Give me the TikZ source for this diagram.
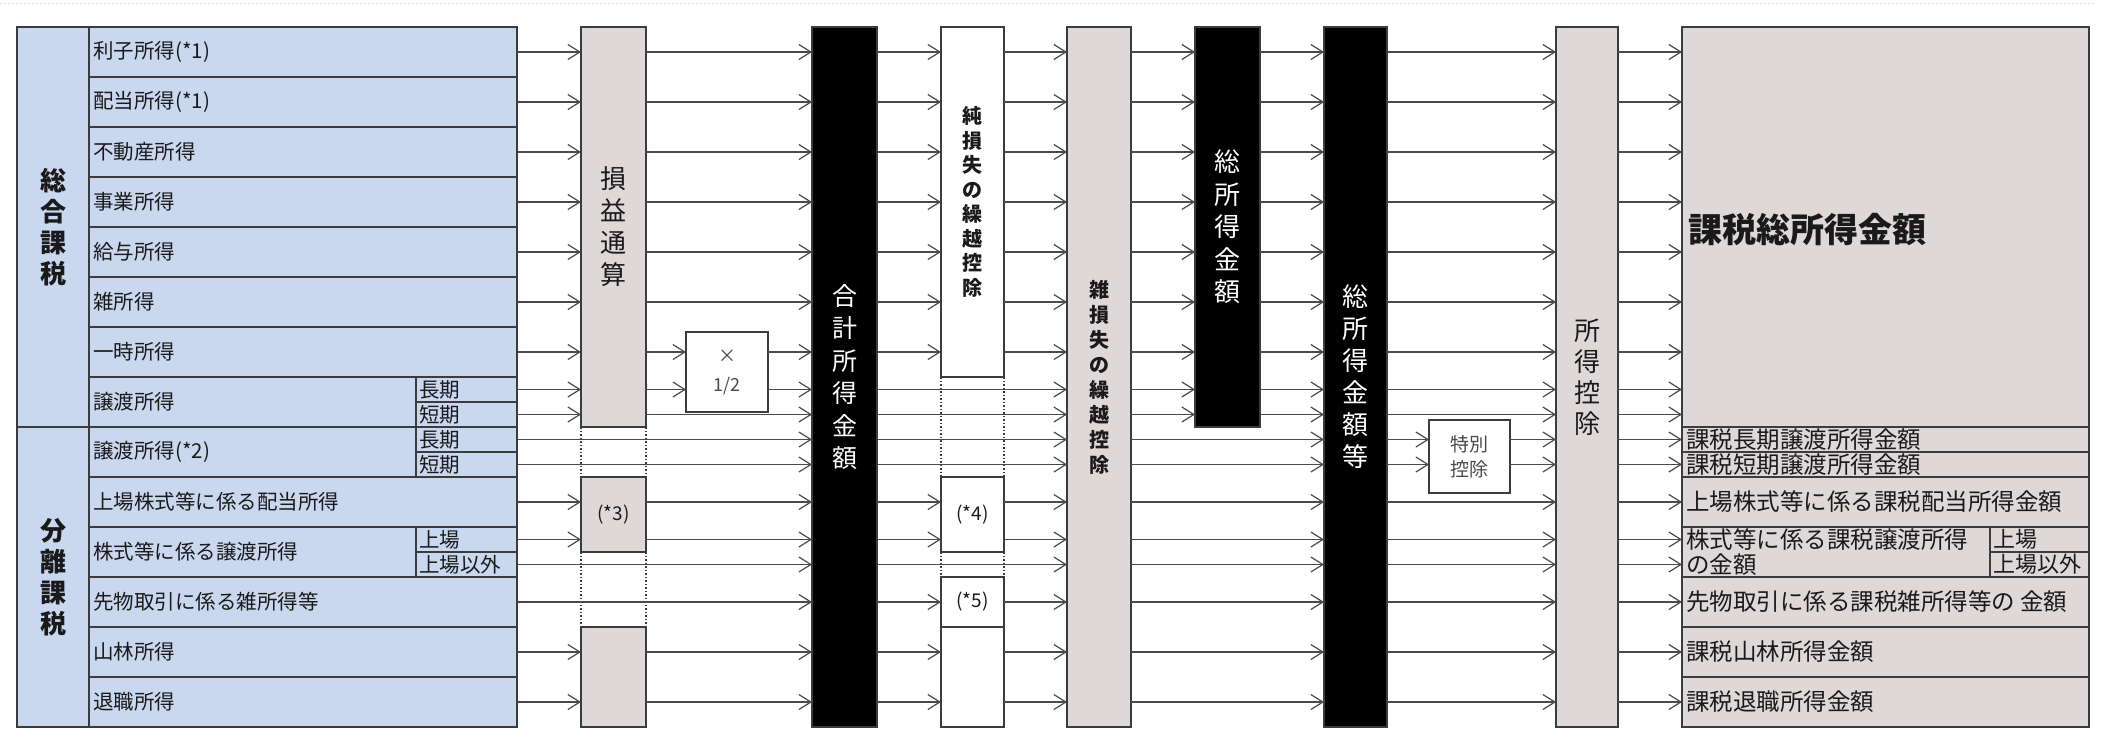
\documentclass[tikz,border=0pt]{standalone}
\usepackage{fontspec}
\newfontfamily\jp{Noto Sans CJK JP}
\usetikzlibrary{arrows.meta}
\definecolor{blu}{HTML}{C9D7EF}
\definecolor{gry}{HTML}{DED8D8}
\definecolor{edge}{HTML}{3C3C3C}
\definecolor{arc}{HTML}{4A4A4A}
\definecolor{txt}{HTML}{1A1A1A}
\newcommand\fs[2]{\jp\fontsize{#1}{#2}\selectfont}
\newcommand\boxat[7]{\node[#2, minimum width={(#5-#3)*1pt}, minimum height={(#6-#4)*1pt}] (#1) at ({(#3+#5)/2},{(#4+#6)/2}) {#7};}
\begin{document}
\begin{tikzpicture}[x=1pt,y=-1pt,
  bx/.style={draw=edge, line width=1.3pt, inner sep=0pt, outer sep=0pt, align=center},
  gbox/.style={bx, fill=gry, text=txt},
  kbox/.style={bx, fill=black, text=white},
  wbox/.style={bx, fill=white, text=txt},
  arr/.style={draw=arc, line width=1.2pt, -{Straight Barb[length=12pt,width=15pt]}},
  dotl/.style={draw=edge, line width=1.2pt, dash pattern=on 1.5pt off 2pt},
  tbl/.style={draw=edge, line width=1.3pt},
  lab/.style={anchor=west, inner sep=0pt, text=txt, font=\fs{20.5}{24}},
  rlab/.style={anchor=west, inner sep=0pt, text=txt, font=\fs{23.5}{25}},
  cat/.style={inner sep=0pt, text=txt, align=center, font=\fs{26}{31}\bfseries},
]
\useasboundingbox (0,0) rectangle (2107,729);
\fill[white] (0,0) rectangle (2107,729);
\draw[gray!30, dash pattern=on 2pt off 2pt, line width=0.8pt] (0,3) -- (2095,3);

% row coordinates
\foreach \n/\y in {r1/52,r2/102,r3/152,r4/202,r5/252,r6/302,r7/352,r8a/389.5,r8b/414.5,r9a/439.5,r9b/464.5,r10/502,r11a/539.5,r11b/564.5,r12/602,r13/652,r14/702}
  \coordinate (\n) at (0,\y);

% left table
\node[bx, fill=blu, minimum width=500pt, minimum height=700pt] (L) at (267,377) {};
\draw[tbl] (89,27) -- (89,727);
\foreach \y in {77,127,177,227,277,327,377,477,527,577,627,677} \draw[tbl] (89,\y) -- (517,\y);
\draw[tbl] (17,427) -- (517,427);
\draw[tbl] (416,377) -- (416,477);
\draw[tbl] (416,527) -- (416,577);
\foreach \y in {402,452,552} \draw[tbl] (416,\y) -- (517,\y);

\node[cat] (c1) at (53,227) {総\\合\\課\\税};
\node[cat] (c2) at (53,577) {分\\離\\課\\税};

\node[lab] (a1) at (93,52) {利子所得(*1)};
\node[lab] (a2) at (93,102) {配当所得(*1)};
\node[lab] (a3) at (93,152) {不動産所得};
\node[lab] (a4) at (93,202) {事業所得};
\node[lab] (a5) at (93,252) {給与所得};
\node[lab] (a6) at (93,302) {雑所得};
\node[lab] (a7) at (93,352) {一時所得};
\node[lab] (a8) at (93,402) {譲渡所得};
\node[lab] (a8l) at (419,389.5) {長期};
\node[lab] (a8s) at (419,414.5) {短期};
\node[lab] (a9) at (93,452) {譲渡所得(*2)};
\node[lab] (a9l) at (419,439.5) {長期};
\node[lab] (a9s) at (419,464.5) {短期};
\node[lab] (a10) at (93,502) {上場株式等に係る配当所得};
\node[lab] (a11) at (93,552) {株式等に係る譲渡所得};
\node[lab] (a11l) at (419,539.5) {上場};
\node[lab] (a11s) at (419,564.5) {上場以外};
\node[lab] (a12) at (93,602) {先物取引に係る雑所得等};
\node[lab] (a13) at (93,652) {山林所得};
\node[lab] (a14) at (93,702) {退職所得};

% dotted continuations
\draw[dotl] (581,427) -- (581,477);
\draw[dotl] (646,427) -- (646,477);
\draw[dotl] (581,552) -- (581,627);
\draw[dotl] (646,552) -- (646,627);
\draw[dotl] (941,377) -- (941,477);
\draw[dotl] (1004,377) -- (1004,477);
\draw[dotl] (941,552) -- (941,577);
\draw[dotl] (1004,552) -- (1004,577);

% boxes
\boxat{S1}{gbox, font=\fs{26}{32}}{581}{27}{646}{427}{損\\益\\通\\算}
\boxat{S3}{gbox, font=\fs{19}{22}}{581}{477}{646}{552}{(*3)}
\boxat{S4}{gbox}{581}{627}{646}{727}{}
\boxat{H}{wbox, font=\fs{18}{29}, text=arc}{686}{332}{768}{412}{×\\1/2}
\boxat{G}{kbox, font=\fs{25}{32.5}}{812}{27}{877}{727}{合\\計\\所\\得\\金\\額}
\boxat{J1}{wbox, font=\fs{20}{24.5}\bfseries}{941}{27}{1004}{377}{純\\損\\失\\の\\繰\\越\\控\\除}
\boxat{J4}{wbox, font=\fs{19}{22}}{941}{477}{1004}{552}{(*4)}
\boxat{J5}{wbox, font=\fs{19}{22}}{941}{577}{1004}{627}{(*5)}
\boxat{J6}{wbox}{941}{627}{1004}{727}{}
\boxat{Z}{gbox, font=\fs{20}{25}\bfseries}{1067}{27}{1131}{727}{雑\\損\\失\\の\\繰\\越\\控\\除}
\boxat{T}{kbox, font=\fs{26}{32.5}}{1195}{27}{1260}{427}{総\\所\\得\\金\\額}
\boxat{TT}{kbox, font=\fs{26}{32}}{1324}{27}{1387}{727}{総\\所\\得\\金\\額\\等}
\boxat{SP}{wbox, font=\fs{19}{25}, text=arc}{1429}{420}{1510}{493}{特別\\控除}
\boxat{K}{gbox, font=\fs{26}{31}}{1556}{27}{1618}{727}{所\\得\\控\\除}
\boxat{R}{gbox}{1682}{27}{2089}{727}{}

% right table
\foreach \y in {427,452,477,527,577,627,677} \draw[tbl] (1682,\y) -- (2089,\y);
\draw[tbl] (1990,527) -- (1990,577);
\draw[tbl] (1990,552) -- (2089,552);

\node[anchor=west, inner sep=0pt, text=txt, font=\fs{34}{40}\bfseries] (b0) at (1688,230) {課税総所得金額};
\node[rlab] (b1) at (1686,439.5) {課税長期譲渡所得金額};
\node[rlab] (b2) at (1686,464.5) {課税短期譲渡所得金額};
\node[rlab] (b3) at (1686,502) {上場株式等に係る課税配当所得金額};
\node[rlab, align=left] (b4) at (1686,552) {株式等に係る課税譲渡所得\\の金額};
\node[rlab, font=\fs{22}{24}] (b4a) at (1993,539.5) {上場};
\node[rlab, font=\fs{22}{24}] (b4b) at (1993,564.5) {上場以外};
\node[rlab] (b5) at (1686,602) {先物取引に係る課税雑所得等の 金額};
\node[rlab] (b6) at (1686,652) {課税山林所得金額};
\node[rlab] (b7) at (1686,702) {課税退職所得金額};

% arrows: left table -> 損益通算 column
\foreach \r in {r1,r2,r3,r4,r5,r6,r7,r8a,r8b} \draw[arr] (L.east |- \r) -- (S1.west |- \r);
\foreach \r in {r10,r11a} \draw[arr] (L.east |- \r) -- (S3.west |- \r);
\foreach \r in {r13,r14} \draw[arr] (L.east |- \r) -- (S4.west |- \r);
\foreach \r in {r9a,r9b,r11b,r12} \draw[arr] (L.east |- \r) -- (G.west |- \r);
% -> 合計所得金額
\foreach \r in {r1,r2,r3,r4,r5,r6,r8b} \draw[arr] (S1.east |- \r) -- (G.west |- \r);
\foreach \r in {r7,r8a} {\draw[arr] (S1.east |- \r) -- (H.west |- \r); \draw[arr] (H.east |- \r) -- (G.west |- \r);}
\foreach \r in {r10,r11a} \draw[arr] (S3.east |- \r) -- (G.west |- \r);
\foreach \r in {r13,r14} \draw[arr] (S4.east |- \r) -- (G.west |- \r);
% -> 純損失 / 雑損失
\foreach \r in {r1,r2,r3,r4,r5,r6,r7} {\draw[arr] (G.east |- \r) -- (J1.west |- \r); \draw[arr] (J1.east |- \r) -- (Z.west |- \r);}
\foreach \r in {r8a,r8b,r9a,r9b,r11b} \draw[arr] (G.east |- \r) -- (Z.west |- \r);
\foreach \r in {r10,r11a} {\draw[arr] (G.east |- \r) -- (J4.west |- \r); \draw[arr] (J4.east |- \r) -- (Z.west |- \r);}
\foreach \r in {r12} {\draw[arr] (G.east |- \r) -- (J5.west |- \r); \draw[arr] (J5.east |- \r) -- (Z.west |- \r);}
\foreach \r in {r13,r14} {\draw[arr] (G.east |- \r) -- (J6.west |- \r); \draw[arr] (J6.east |- \r) -- (Z.west |- \r);}
% -> 総所得金額 / 総所得金額等
\foreach \r in {r1,r2,r3,r4,r5,r6,r7,r8a,r8b} {\draw[arr] (Z.east |- \r) -- (T.west |- \r); \draw[arr] (T.east |- \r) -- (TT.west |- \r);}
\foreach \r in {r9a,r9b,r10,r11a,r11b,r12,r13,r14} \draw[arr] (Z.east |- \r) -- (TT.west |- \r);
% -> 所得控除
\foreach \r in {r1,r2,r3,r4,r5,r6,r7,r8a,r8b,r10,r11a,r11b,r12,r13,r14} \draw[arr] (TT.east |- \r) -- (K.west |- \r);
\foreach \r in {r9a,r9b} {\draw[arr] (TT.east |- \r) -- (SP.west |- \r); \draw[arr] (SP.east |- \r) -- (K.west |- \r);}
% -> right table
\foreach \r in {r1,r2,r3,r4,r5,r6,r7,r8a,r8b,r9a,r9b,r10,r11a,r11b,r12,r13,r14} \draw[arr] (K.east |- \r) -- (R.west |- \r);
\end{tikzpicture}
\end{document}
